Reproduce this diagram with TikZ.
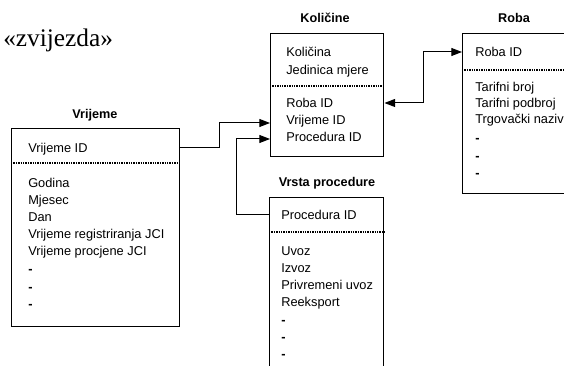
\documentclass[tikz,border=0pt]{standalone}
\usepackage{fontspec}
\setmainfont{Liberation Sans}
\newfontfamily\serifz{Liberation Serif}
\usetikzlibrary{arrows.meta}
\begin{document}
\begin{tikzpicture}[x=0.75pt,y=-0.75pt,
  box/.style={draw, line width=1.1pt, anchor=north west, inner sep=0pt},
  sep/.style={line width=1pt, dash pattern=on 1pt off 0.8pt},
  txt/.style={anchor=west, inner sep=0pt, yshift=-1.2pt, font=\fontsize{9.6}{11}\selectfont, text height=7pt, text depth=2pt},
  ttl/.style={inner sep=0pt, yshift=-1pt, font=\fontsize{9.5}{11}\selectfont\bfseries, text height=7pt, text depth=2pt},
  conn/.style={line width=0.75pt, -{Triangle[length=8pt,width=6pt]}},
  conn2/.style={line width=0.75pt, {Triangle[length=8pt,width=6pt]}-{Triangle[length=8pt,width=6pt]}}]
\useasboundingbox (0,0) rectangle (564,366);
\clip (0,0) rectangle (564,366);
% title
\node[anchor=base west, inner sep=0pt, font=\serifz\fontsize{19}{22}\selectfont] (star) at (3,47) {«zvijezda»};
% boxes
\node[box, minimum width=126pt, minimum height=148.5pt] (vr) at (11,128) {};
\node[box, minimum width=84.75pt, minimum height=92.25pt] (kol) at (270,33) {};
\node[box, minimum width=88.5pt, minimum height=120pt] (roba) at (462,33) {};
\node[box, minimum width=85.5pt, minimum height=140pt] (vp) at (269,197) {};
% separators
\draw[sep] (vr.west |- 0,163) -- (vr.east |- 0,163);
\draw[sep] (kol.west |- 0,86) -- (kol.east |- 0,86);
\draw[sep] (roba.west |- 0,70) -- (roba.east |- 0,70);
\draw[sep] (vp.west |- 0,232) -- (vp.east |- 0,232);
% titles
\node[ttl] (tvr) at (95,114) {Vrijeme};
\node[ttl] (tkol) at (325,18) {Količine};
\node[ttl] (troba) at (514,18) {Roba};
\node[ttl] (tvp) at (327,182) {Vrsta procedure};
% Vrijeme rows
\node[txt] (v0) at (28,148) {Vrijeme ID};
\node[txt] (v1) at (28,183) {Godina};
\node[txt] (v2) at (28,200) {Mjesec};
\node[txt] (v3) at (28,217) {Dan};
\node[txt] (v4) at (28,234) {Vrijeme registriranja JCI};
\node[txt] (v5) at (28,251) {Vrijeme procjene JCI};
\node[txt] (v6) at (28,269) {\textbf{-}};
\node[txt] (v7) at (28,287) {\textbf{-}};
\node[txt] (v8) at (28,304) {\textbf{-}};
% Kolicine rows
\node[txt] (k1) at (286,52) {Količina};
\node[txt] (k2) at (286,70) {Jedinica mjere};
\node[txt] (k3) at (286,103) {Roba ID};
\node[txt] (k4) at (286,120) {Vrijeme ID};
\node[txt] (k5) at (286,137) {Procedura ID};
% Roba rows
\node[txt] (r0) at (475,52) {Roba ID};
\node[txt] (r1) at (475,87) {Tarifni broj};
\node[txt] (r2) at (475,103) {Tarifni podbroj};
\node[txt] (r3) at (475,119) {Trgovački naziv};
\node[txt] (r4) at (475,138) {\textbf{-}};
\node[txt] (r5) at (475,156) {\textbf{-}};
\node[txt] (r6) at (475,173) {\textbf{-}};
% Vrsta procedure rows
\node[txt] (p0) at (281,215) {Procedura ID};
\node[txt] (p1) at (281,251) {Uvoz};
\node[txt] (p2) at (281,268) {Izvoz};
\node[txt] (p3) at (281,285) {Privremeni uvoz};
\node[txt] (p4) at (281,302) {Reeksport};
\node[txt] (p5) at (281,320) {\textbf{-}};
\node[txt] (p6) at (281,337) {\textbf{-}};
\node[txt] (p7) at (281,354) {\textbf{-}};
% connectors
\draw[conn] (vr.east |- 0,148) -- (219,148) -- (219,123) -- (kol.west |- 0,123);
\draw[conn] (vp.west |- 0,215) -- (236,215) -- (236,139) -- (kol.west |- 0,139);
\draw[conn2] (kol.east |- 0,103) -- (423,103) -- (423,52) -- (roba.west |- 0,52);
\end{tikzpicture}
\end{document}
